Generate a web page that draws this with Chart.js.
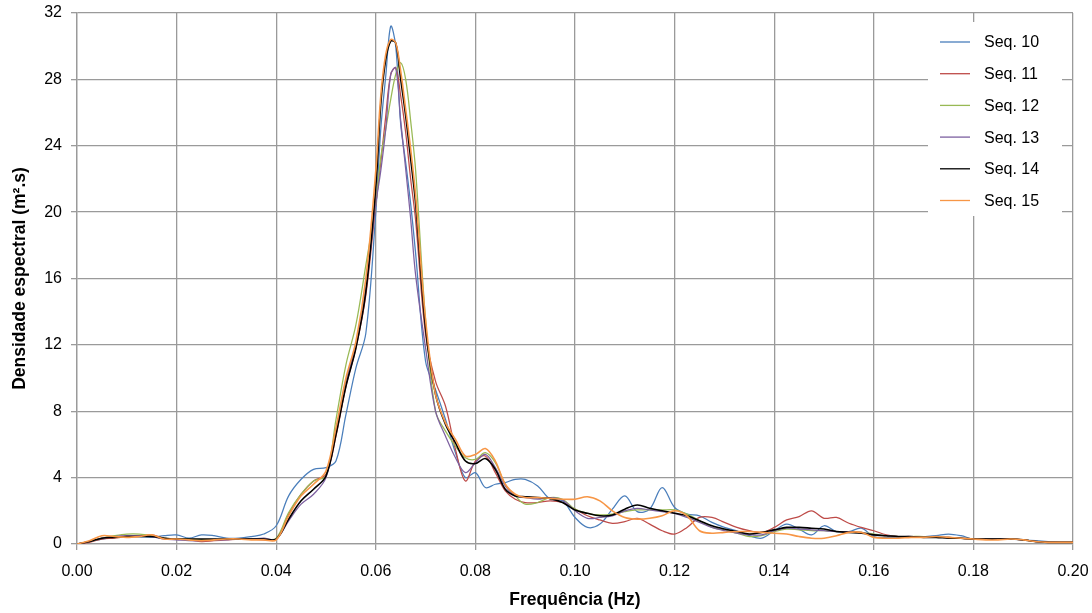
<!DOCTYPE html>
<html>
<head>
<meta charset="utf-8">
<script src="https://cdn.jsdelivr.net/npm/chart.js@4.4.1/dist/chart.umd.min.js"></script>
<style>
  html, body { margin: 0; padding: 0; background: #fff; }
  #wrap { width: 1092px; height: 613px; }
</style>
</head>
<body>
<div id="wrap"><canvas id="spectrum"></canvas></div>
<script>
// frequencies (Hz) shared by every sequence
const freq = [
  0, 0.0025, 0.005, 0.0075, 0.01, 0.0125, 0.015, 0.0175, 0.02, 0.0225, 0.025, 0.0275, 0.03, 0.0325, 0.035, 0.0375,
  0.04, 0.0425, 0.045, 0.0475, 0.05,
  0.052, 0.054, 0.056, 0.058, 0.06,
  0.061, 0.062, 0.063, 0.064, 0.065, 0.066, 0.067, 0.068,
  0.07, 0.072, 0.074, 0.076, 0.078, 0.08, 0.082, 0.084, 0.086, 0.088, 0.09,
  0.0925, 0.095, 0.0975, 0.1, 0.1025, 0.105, 0.1075, 0.11, 0.1125, 0.115, 0.1175, 0.12, 0.1225, 0.125, 0.1275, 0.13,
  0.1325, 0.135, 0.1375, 0.14, 0.1425, 0.145, 0.1475, 0.15, 0.1525, 0.155, 0.1575, 0.16, 0.1625, 0.165, 0.1675, 0.17,
  0.1725, 0.175, 0.1775, 0.18, 0.1825, 0.185, 0.1875, 0.19, 0.1925, 0.195, 0.1975, 0.2
];

const seq10 = [
  0, 0.15, 0.3, 0.4, 0.45, 0.45, 0.4, 0.5, 0.55, 0.35, 0.55, 0.5, 0.35, 0.35, 0.45, 0.6,
  1.1, 2.9, 3.9, 4.5, 4.6,
  5.0, 7.8, 10.6, 12.7, 20,
  25, 28.2, 31.2, 30, 25.3, 23, 20.5, 17.5,
  11, 9.3, 7.5, 5.5, 4.0, 4.3, 3.4, 3.6, 3.7, 3.9, 3.9,
  3.5, 2.7, 2.6, 1.6, 1.0, 1.2, 2.1, 2.9, 1.95, 2.1, 3.4, 2.2, 1.8, 1.7, 1.3, 1.0,
  0.8, 0.5, 0.35, 0.8, 1.2, 0.9, 0.55, 1.1, 0.75, 0.75, 0.95, 0.45, 0.4, 0.4, 0.4, 0.45,
  0.5, 0.6, 0.5, 0.3, 0.3, 0.3, 0.3, 0.25, 0.2, 0.15, 0.1, 0.1
];
const seq11 = [
  0, 0.1, 0.3, 0.35, 0.45, 0.5, 0.55, 0.35, 0.3, 0.25, 0.15, 0.2, 0.25, 0.3, 0.3, 0.25,
  0.3, 1.8, 3.0, 3.8, 4.2,
  6.5, 9.5, 11.8, 15, 20.5,
  23, 25.8, 28.3, 28.7, 27, 24.8, 22, 19.5,
  12.6, 9.8, 8.3, 5.7, 3.8, 5.0, 5.3, 4.3, 3.2, 2.7, 2.5,
  2.5, 2.6, 2.5, 2.1, 1.7, 1.45, 1.25, 1.35, 1.55, 1.2, 0.8, 0.6, 1.0, 1.6, 1.6, 1.3,
  1.0, 0.8, 0.7, 1.0, 1.45, 1.65, 2.0, 1.55, 1.6, 1.25, 1.0, 0.8, 0.55, 0.45, 0.4, 0.4,
  0.4, 0.4, 0.35, 0.3, 0.3, 0.3, 0.3, 0.25, 0.15, 0.1, 0.1, 0.1
];
const seq12 = [
  0, 0.15, 0.35, 0.5, 0.6, 0.6, 0.5, 0.35, 0.3, 0.3, 0.25, 0.25, 0.3, 0.3, 0.3, 0.3,
  0.35, 1.9, 3.0, 3.8, 4.1,
  7.5, 10.8, 13.2, 16.8, 20.5,
  23.3, 25, 26.8, 28.3, 29, 28, 25.5, 22.5,
  13.5, 8.0, 6.8, 5.9, 5.2, 5.1, 5.5, 4.9, 3.6, 2.9, 2.4,
  2.5, 2.8, 2.7, 2.1, 1.85, 1.75, 1.8, 1.95, 2.05, 2.05, 2.05, 2.05, 1.8, 1.4, 1.0, 0.85,
  0.65, 0.45, 0.5, 0.75, 0.9, 0.85, 0.8, 0.8, 0.75, 0.75, 0.7, 0.6, 0.5, 0.45, 0.45, 0.45,
  0.4, 0.4, 0.35, 0.3, 0.3, 0.3, 0.3, 0.25, 0.15, 0.1, 0.1, 0.1
];
const seq13 = [
  0, 0.15, 0.35, 0.45, 0.5, 0.5, 0.45, 0.3, 0.25, 0.2, 0.2, 0.25, 0.25, 0.3, 0.3, 0.35,
  0.3, 1.4, 2.4, 3.0, 4.0,
  6.8, 9.8, 12, 15.5, 20.5,
  22.5, 25, 28.3, 28.7, 25.5, 22.6, 19.6, 16.2,
  11.8, 8.0, 6.5, 5.2, 4.3, 4.9, 5.4, 4.6, 3.5, 2.9, 2.8,
  2.7, 2.8, 2.65, 2.0, 1.55, 1.6, 1.7, 2.0, 2.15, 2.05, 1.95, 1.85, 1.6, 1.3, 1.0, 0.8,
  0.65, 0.55, 0.55, 0.8, 0.95, 0.9, 0.85, 0.8, 0.75, 0.75, 0.7, 0.55, 0.5, 0.45, 0.45, 0.4,
  0.4, 0.4, 0.35, 0.3, 0.3, 0.3, 0.3, 0.25, 0.15, 0.1, 0.1, 0.1
];
const seq14 = [
  0, 0.15, 0.35, 0.4, 0.45, 0.45, 0.45, 0.35, 0.3, 0.3, 0.3, 0.3, 0.3, 0.3, 0.3, 0.3,
  0.3, 1.5, 2.6, 3.3, 4.1,
  6.6, 9.5, 11.8, 15.2, 21.5,
  26.5, 29.2, 30.3, 30.2, 28, 25.8, 23.2, 20.5,
  13, 9.0, 7.2, 6.1, 5.0, 4.85, 5.15, 4.5, 3.3, 2.9, 2.85,
  2.8, 2.75, 2.5, 2.05, 1.85, 1.7, 1.75, 2.1, 2.35, 2.15, 2.0, 1.85, 1.7, 1.4, 1.1, 0.9,
  0.75, 0.6, 0.7, 0.85, 1.0, 1.0, 0.95, 0.9, 0.75, 0.7, 0.65, 0.55, 0.5, 0.45, 0.45, 0.4,
  0.4, 0.35, 0.35, 0.3, 0.3, 0.3, 0.3, 0.25, 0.15, 0.1, 0.1, 0.1
];
const seq15 = [
  0, 0.2, 0.5, 0.45, 0.4, 0.45, 0.55, 0.3, 0.3, 0.25, 0.2, 0.25, 0.3, 0.3, 0.25, 0.25,
  0.25, 1.7, 2.9, 3.6, 4.4,
  7.0, 10.0, 12.2, 16, 22.5,
  27, 29.5, 30.4, 30.2, 28.5, 26.2, 23.8, 21,
  13.5, 9.0, 7.3, 6.3, 5.3, 5.4, 5.75, 5.0, 3.6, 3.0, 2.8,
  2.8, 2.75, 2.7, 2.7, 2.85, 2.6, 2.0, 1.6, 1.5, 1.55, 1.7, 2.0, 1.7, 0.8, 0.65, 0.7,
  0.75, 0.75, 0.7, 0.65, 0.6, 0.45, 0.35, 0.35, 0.5, 0.7, 0.7, 0.4, 0.35, 0.35, 0.4, 0.4,
  0.45, 0.4, 0.35, 0.3, 0.25, 0.25, 0.3, 0.25, 0.15, 0.1, 0.1, 0.1
];

const seriesNames = ['Seq. 10', 'Seq. 11', 'Seq. 12', 'Seq. 13', 'Seq. 14', 'Seq. 15'];
const seriesValues = [seq10, seq11, seq12, seq13, seq14, seq15];
const seriesColors = ['#4A7EBB', '#BE4B48', '#98B954', '#7D60A0', '#000000', '#F79646'];
const seriesWidths = [1.25, 1.25, 1.25, 1.25, 1.6, 1.6];

const FONT = '"Liberation Sans", Arial, sans-serif';
const GRID = '#9a9a9a';

// legend drawn as a white box inside the plot, top right
const boxLegend = {
    id: 'boxLegend',
    afterDraw(chart) {
        const ctx = chart.ctx;
        const area = chart.chartArea;
        const left = area.right - 145, top = area.top + 9;
        ctx.save();
        ctx.fillStyle = '#ffffff';
        ctx.fillRect(left, top, 134, 194);
        ctx.font = '16px ' + FONT;
        ctx.textBaseline = 'middle';
        ctx.textAlign = 'left';
        chart.data.datasets.forEach((ds, i) => {
            const y = top + 20 + i * 31.7;
            ctx.strokeStyle = ds.borderColor;
            ctx.lineWidth = 1.3;
            ctx.beginPath();
            ctx.moveTo(left + 12, y);
            ctx.lineTo(left + 42, y);
            ctx.stroke();
            ctx.fillStyle = '#000';
            ctx.fillText(ds.label, left + 56, y + 1);
        });
        ctx.restore();
    }
};

// stop the scales from adding their own label overflow padding
function noOverflow(s) {
    s.paddingTop = 0;
    s.paddingBottom = 0;
    s.paddingLeft = 0;
    s.paddingRight = 0;
}

new Chart(document.getElementById('spectrum'), {
    type: 'line',
    data: {
        datasets: seriesNames.map((name, i) => ({
            label: name,
            data: freq.map((f, k) => ({ x: f, y: seriesValues[i][k] })),
            borderColor: seriesColors[i],
            borderWidth: seriesWidths[i],
            pointRadius: 0,
            tension: 0.35,
            fill: false,
            order: 5 - i
        }))
    },
    options: {
        responsive: true,
        maintainAspectRatio: false,
        animation: false,
        layout: { padding: { left: 0, right: 19, top: 13, bottom: 0 } },
        plugins: {
            legend: { display: false },
            tooltip: { enabled: false }
        },
        scales: {
            x: {
                type: 'linear',
                min: 0,
                max: 0.2,
                afterFit: s => { s.height = 69; noOverflow(s); },
                ticks: {
                    stepSize: 0.02,
                    callback: v => v.toFixed(2),
                    color: '#000',
                    font: { family: FONT, size: 16 },
                    padding: 12,
                    maxRotation: 0
                },
                grid: { color: GRID, lineWidth: 1.3, tickLength: 6 },
                border: { color: GRID, width: 1.3 },
                title: {
                    display: true,
                    text: 'Frequência (Hz)',
                    color: '#000',
                    font: { family: FONT, size: 17.5, weight: 'bold' },
                    padding: { top: 0, bottom: 2 }
                }
            },
            y: {
                min: 0,
                max: 32,
                afterFit: s => { s.width = 77; noOverflow(s); },
                ticks: {
                    stepSize: 4,
                    color: '#000',
                    font: { family: FONT, size: 16 },
                    padding: 9
                },
                grid: { color: GRID, lineWidth: 1.3, tickLength: 6 },
                border: { color: GRID, width: 1.3 },
                title: {
                    display: true,
                    text: 'Densidade espectral (m².s)',
                    color: '#000',
                    font: { family: FONT, size: 17.5, weight: 'bold' },
                    padding: { top: 10, bottom: 0 }
                }
            }
        }
    },
    plugins: [boxLegend]
});
</script>
</body>
</html>
